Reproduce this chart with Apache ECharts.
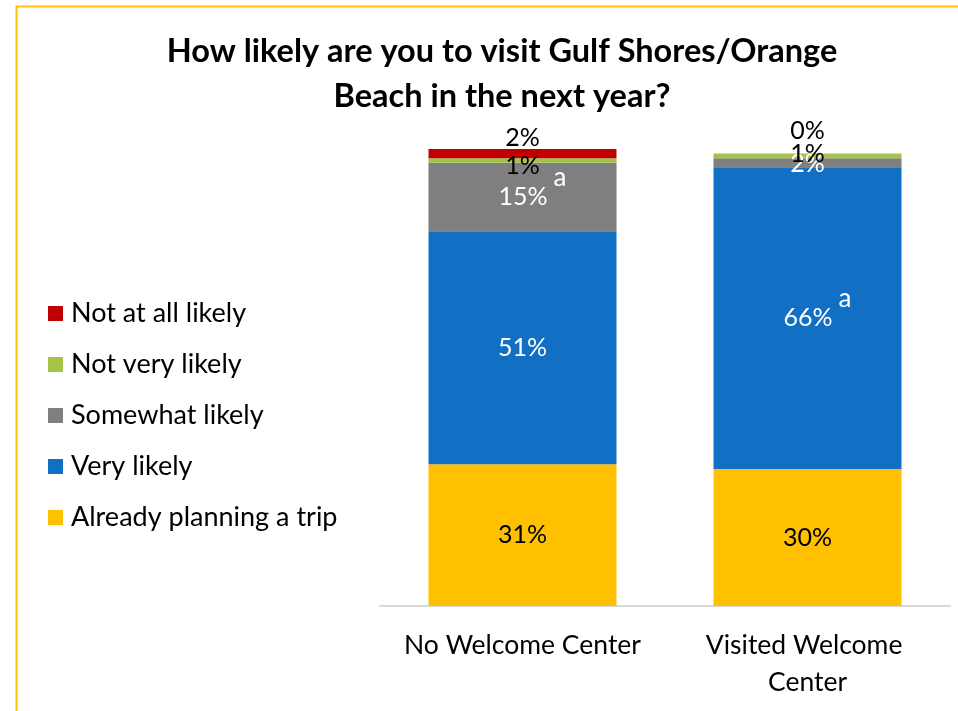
<!DOCTYPE html>
<html>
<head>
<meta charset="utf-8">
<title>How likely are you to visit Gulf Shores/Orange Beach in the next year?</title>
<script src="https://cdn.jsdelivr.net/npm/echarts@6/dist/echarts.min.js"></script>
<style>
  html, body { margin: 0; padding: 0; background: #ffffff; }
  #chart { width: 958px; height: 711px; }
</style>
</head>
<body>
<div id="chart"></div>
<script>
// Survey groups along the x axis
const categories = ['No Welcome Center', 'Visited Welcome Center'];

// Answer shares (%) per group, stacked bottom to top
const alreadyPlanning = [31, 30];
const veryLikely = [51, 66];
const somewhatLikely = [15, 2];
const notVeryLikely = [1, 1];
const notAtAllLikely = [2, 0];

// Significance letters shown next to a share
const veryLikelySig = ['', 'a'];
const somewhatLikelySig = ['a', ''];

// Legend order, top to bottom
const legendOrder = ['Not at all likely', 'Not very likely', 'Somewhat likely', 'Very likely', 'Already planning a trip'];

const FONT = 'Lato';

function richLabel(sig) {
  return function (p) {
    const s = sig ? sig[p.dataIndex] : '';
    if (s) return '{p|}{v|' + p.value + '%}{s|' + s + '}';
    return '{v|' + p.value + '%}';
  };
}

function makeRich(color) {
  return {
    v: { fontFamily: FONT, fontSize: 25, color: color, lineHeight: 64 },
    s: { fontFamily: FONT, fontSize: 26, color: color, lineHeight: 24, verticalAlign: 'top', padding: [0, 0, 0, 6] },
    p: { width: 20, lineHeight: 24 }
  };
}

function makeSeries(name, values, color, labelColor, sig, offsets) {
  return {
    name: name,
    type: 'bar',
    stack: 'total',
    barWidth: 188,
    itemStyle: { color: color },
    emphasis: { disabled: true },
    data: values.map(function (v, i) {
      const item = { value: v };
      if (offsets && offsets[i]) {
        item.label = { offset: offsets[i] };
      }
      return item;
    }),
    label: {
      show: true,
      position: 'inside',
      formatter: richLabel(sig),
      rich: makeRich(labelColor)
    }
  };
}

const chart = echarts.init(document.getElementById('chart'), null, { renderer: 'canvas' });

chart.setOption({
  animation: false,
  backgroundColor: '#ffffff',
  title: {
    text: 'How likely are you to visit Gulf Shores/Orange\nBeach in the next year?',
    left: 497,
    textAlign: 'center',
    top: 24,
    textStyle: { fontFamily: FONT, fontWeight: 'bold', fontSize: 32.5, lineHeight: 45, color: '#000000' }
  },
  legend: {
    orient: 'vertical',
    left: 43,
    top: 295,
    itemWidth: 15,
    itemHeight: 15,
    itemGap: 24,
    icon: 'rect',
    selectedMode: false,
    data: legendOrder,
    textStyle: { fontFamily: FONT, fontSize: 27, color: '#000000', lineHeight: 26, padding: [0, 0, 0, 3] }
  },
  grid: { left: 380, right: 8, top: 149, bottom: 105, containLabel: false },
  xAxis: {
    type: 'category',
    data: categories,
    axisLine: { lineStyle: { color: '#D9D9D9', width: 2 } },
    axisTick: { show: false },
    axisLabel: {
      fontFamily: FONT,
      fontSize: 26.5,
      color: '#000000',
      lineHeight: 37,
      margin: 21,
      width: 260,
      overflow: 'break',
      interval: 0
    }
  },
  yAxis: {
    type: 'value',
    min: 0,
    max: 100,
    show: false,
    splitLine: { show: false }
  },
  graphic: [
    {
      type: 'polyline',
      shape: { points: [[16.5, 711], [16.5, 6.5], [958, 6.5]] },
      style: { stroke: '#FFC000', lineWidth: 2, fill: null },
      silent: true
    }
  ],
  series: [
    makeSeries('Already planning a trip', alreadyPlanning, '#FFC000', '#000000'),
    makeSeries('Very likely', veryLikely, '#1170C4', '#ffffff', veryLikelySig),
    makeSeries('Somewhat likely', somewhatLikely, '#7F7F7F', '#ffffff', somewhatLikelySig, [null, [0, 1]]),
    makeSeries('Not very likely', notVeryLikely, '#A5C249', '#000000', null, [[0, 6], [0, -2]]),
    makeSeries('Not at all likely', notAtAllLikely, '#C00000', '#000000', null, [[0, -16], [0, -23]])
  ]
});
</script>
</body>
</html>
